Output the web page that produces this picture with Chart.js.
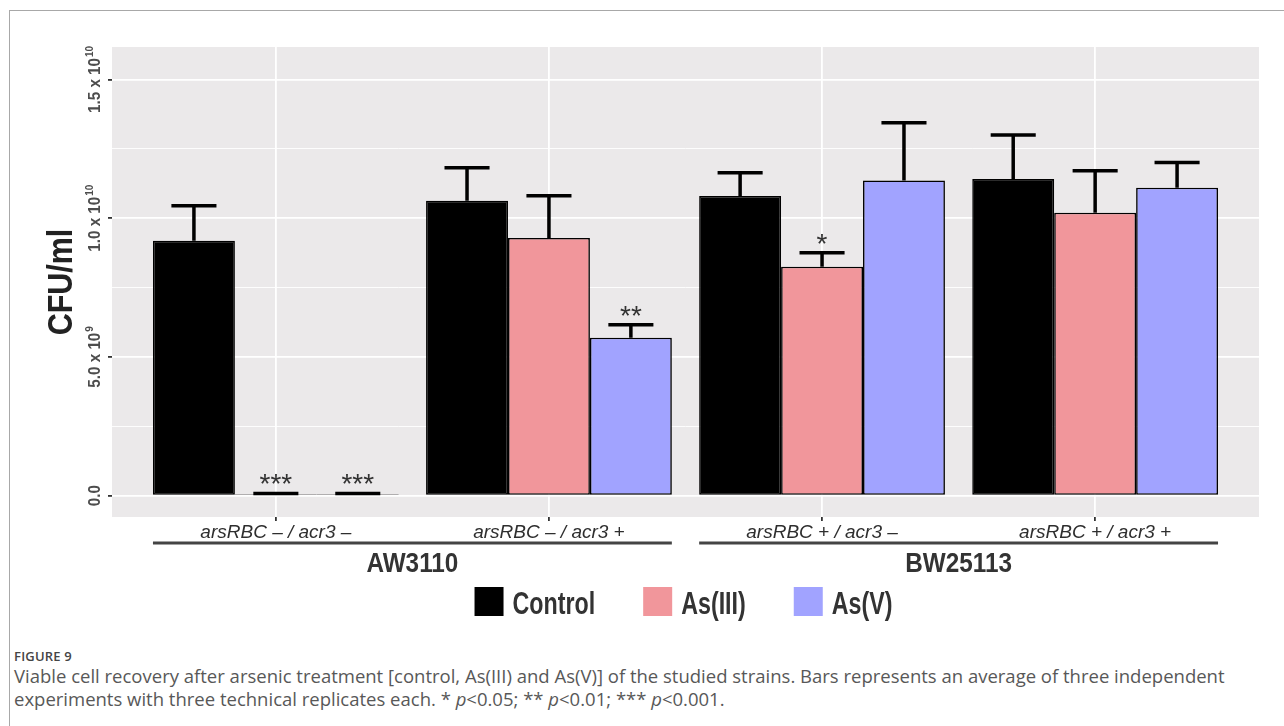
<!DOCTYPE html>
<html>
<head>
<meta charset="utf-8">
<script src="https://cdn.jsdelivr.net/npm/chart.js@4.4.1/dist/chart.umd.min.js"></script>
<style>
  html, body { margin: 0; padding: 0; background: #fff; width: 1284px; height: 726px; overflow: hidden; }
  #frame { position: absolute; left: 9px; top: 10px; width: 1300px; height: 740px;
           border-left: 1.5px solid #a8a8a8; border-top: 1.5px solid #a8a8a8; }
  #wrap { position: absolute; left: 0; top: 0; width: 1284px; height: 640px; }
  .cap { position: absolute; left: 14px; font-family: 'Open Sans', 'Noto Sans', sans-serif;
         color: #585858; white-space: nowrap; }
  #figno { top: 647px; font-size: 13px; font-weight: 600; color: #454545; letter-spacing: 0.2px; }
  .line { font-size: 18.5px; }
</style>
</head>
<body>
<div id="frame"></div>
<div id="wrap"><canvas id="c" width="1284" height="640"></canvas></div>
<div class="cap" id="figno">FIGURE 9</div>
<div class="cap line" style="top:663px;">Viable cell recovery after arsenic treatment [control, As(III) and As(V)] of the studied strains. Bars represents an average of three independent</div>
<div class="cap line" style="top:686px;">experiments with three technical replicates each. * <i>p</i>&lt;0.05; ** <i>p</i>&lt;0.01; *** <i>p</i>&lt;0.001.</div>

<script>
// Genotype categories (x axis) and strain groupings
const categories = ['arsRBC \u2013 / acr3 \u2013', 'arsRBC \u2013 / acr3 +', 'arsRBC + / acr3 \u2013', 'arsRBC + / acr3 +'];
const strainNames = ['AW3110', 'BW25113'];
const strainFirstCat = [1, 3];
const strainLastCat = [2, 4];

// Treatments
const seriesNames = ['Control', 'As(III)', 'As(V)'];

// Mean CFU/ml and mean + SD for each treatment
const controlMean  = [9.19e9, 1.063e10, 1.080e10, 1.141e10];
const controlUpper = [1.045e10, 1.182e10, 1.164e10, 1.300e10];
const as3Mean      = [5e7, 9.29e9, 8.25e9, 1.020e10];
const as3Upper     = [8e7, 1.081e10, 8.75e9, 1.171e10];
const as5Mean      = [5e7, 5.69e9, 1.136e10, 1.110e10];
const as5Upper     = [8e7, 6.16e9, 1.344e10, 1.201e10];

// Significance marks
const controlSig = ['', '', '', ''];
const as3Sig     = ['***', '', '*', ''];
const as5Sig     = ['***', '**', '', ''];

// Y axis ticks
const yGridValues  = [0, 2.5e9, 5e9, 7.5e9, 1e10, 1.25e10, 1.5e10];
const yTickValues  = [0, 5e9, 1e10, 1.5e10];
const yTickText    = ['0.0', '5.0 x 10', '1.0 x 10', '1.5 x 10'];
const yTickSup     = ['', '9', '10', '10'];

const BOLD = "'Liberation Sans', Arial, sans-serif";
const PLAIN = "'Liberation Sans', Arial, sans-serif";

const upperSets = [controlUpper, as3Upper, as5Upper];
const sigSets = [controlSig, as3Sig, as5Sig];

const isMajor = v => yTickValues.some(t => Math.abs(t - v) < 1);

// bold text squeezed horizontally to a condensed look
function condText(ctx, text, x, y, size, sx, align, color) {
  ctx.save();
  ctx.translate(x, y);
  ctx.scale(sx, 1);
  ctx.font = 'bold ' + size + 'px ' + BOLD;
  ctx.fillStyle = color;
  ctx.textAlign = align;
  ctx.textBaseline = 'alphabetic';
  ctx.fillText(text, 0, 0);
  ctx.restore();
}
function condWidth(ctx, text, size, sx) {
  ctx.save();
  ctx.font = 'bold ' + size + 'px ' + BOLD;
  const w = ctx.measureText(text).width * sx;
  ctx.restore();
  return w;
}

const decorations = {
  id: 'decorations',
  beforeDraw(chart) {
    const { ctx, chartArea: a } = chart;
    ctx.save();
    ctx.fillStyle = '#EBE9EA';
    ctx.fillRect(a.left, a.top, a.right - a.left, a.bottom - a.top);
    ctx.restore();
  },
  afterDatasetsDraw(chart) {
    const { ctx } = chart;
    const yS = chart.scales.y;
    ctx.save();
    chart.data.datasets.forEach((ds, i) => {
      const meta = chart.getDatasetMeta(i);
      meta.data.forEach((el, j) => {
        const top = yS.getPixelForValue(upperSets[i][j]);
        const capW = el.width * 0.55;
        ctx.strokeStyle = '#000';
        ctx.lineWidth = 3.5;
        ctx.lineCap = 'butt';
        ctx.beginPath();
        ctx.moveTo(el.x, el.y);
        ctx.lineTo(el.x, top);
        ctx.moveTo(el.x - capW / 2, top);
        ctx.lineTo(el.x + capW / 2, top);
        ctx.stroke();
        const s = sigSets[i][j];
        if (s) {
          ctx.font = '28px ' + PLAIN;
          ctx.fillStyle = '#333';
          ctx.textAlign = 'center';
          ctx.textBaseline = 'alphabetic';
          const m = ctx.measureText(s);
          const cy = top - 14;
          ctx.fillText(s, el.x, cy + (m.actualBoundingBoxAscent - m.actualBoundingBoxDescent) / 2);
        }
      });
    });
    ctx.restore();
  },
  afterDraw(chart) {
    const { ctx, chartArea: a } = chart;
    const xS = chart.scales.x, yS = chart.scales.y;
    ctx.save();

    // y tick labels, rotated, with superscript exponents
    yTickValues.forEach((v, k) => {
      const py = yS.getPixelForValue(v);
      ctx.save();
      ctx.translate(100, py);
      ctx.rotate(-Math.PI / 2);
      const w1 = condWidth(ctx, yTickText[k], 16, 0.95);
      const w2 = yTickSup[k] ? condWidth(ctx, yTickSup[k], 10.5, 0.95) + 1 : 0;
      const x0 = -(w1 + w2) / 2;
      condText(ctx, yTickText[k], x0, 0, 16, 0.95, 'left', '#4d4d4d');
      if (yTickSup[k]) condText(ctx, yTickSup[k], x0 + w1 + 1, -7, 10.5, 0.95, 'left', '#4d4d4d');
      ctx.restore();
    });

    // y axis title
    ctx.save();
    ctx.translate(72, (a.top + a.bottom) / 2);
    ctx.rotate(-Math.PI / 2);
    condText(ctx, 'CFU/ml', 0, 0, 35, 0.87, 'center', '#222');
    ctx.restore();

    // strain brackets and names
    const half = 0.45;
    strainNames.forEach((name, k) => {
      const x1 = xS.getPixelForValue(strainFirstCat[k] - half);
      const x2 = xS.getPixelForValue(strainLastCat[k] + half);
      ctx.strokeStyle = '#444';
      ctx.lineWidth = 3;
      ctx.beginPath();
      ctx.moveTo(x1, 543);
      ctx.lineTo(x2, 543);
      ctx.stroke();
      condText(ctx, name, (x1 + x2) / 2, 572, 27, 0.9, 'center', '#333');
    });

    // legend
    const box = 29, gapText = 9, gapItem = 48, lsize = 31, lsx = 0.75;
    const widths = seriesNames.map(n => condWidth(ctx, n, lsize, lsx));
    const total = widths.reduce((s, w) => s + box + gapText + w, 0) + gapItem * (seriesNames.length - 1);
    let lx = (a.left + a.right) / 2 - total / 2 - 2;
    chart.data.datasets.forEach((ds, i) => {
      ctx.fillStyle = ds.backgroundColor;
      ctx.fillRect(lx, 587, box, box);
      condText(ctx, seriesNames[i], lx + box + gapText, 614, lsize, lsx, 'left', '#333');
      lx += box + gapText + widths[i] + gapItem;
    });
    ctx.restore();
  }
};

const toPoints = arr => arr.map((v, i) => ({ x: i + 1, y: v }));

new Chart(document.getElementById('c'), {
  type: 'bar',
  data: {
    datasets: [
      { label: seriesNames[0], data: toPoints(controlMean), backgroundColor: '#000000' },
      { label: seriesNames[1], data: toPoints(as3Mean), backgroundColor: '#F1969B' },
      { label: seriesNames[2], data: toPoints(as5Mean), backgroundColor: '#A1A3FF' }
    ]
  },
  options: {
    responsive: false,
    animation: false,
    devicePixelRatio: 1,
    layout: { padding: { left: 0, top: 47, right: 25, bottom: 0 } },
    datasets: {
      bar: {
        categoryPercentage: 0.9,
        barPercentage: 1.0,
        borderColor: '#000',
        borderWidth: 1.6,
        borderSkipped: false
      }
    },
    plugins: { legend: { display: false }, tooltip: { enabled: false } },
    scales: {
      x: {
        type: 'linear',
        offset: false,
        min: 0.4,
        max: 4.6,
        afterBuildTicks(s) { s.ticks = categories.map((c, i) => ({ value: i + 1 })); },
        afterFit(s) { s.height = 123; },
        ticks: {
          callback: (v, i) => categories[i],
          font: { family: PLAIN, size: 19, style: 'italic' },
          color: '#2e2e2e',
          padding: 0,
          autoSkip: false,
          maxRotation: 0,
          minRotation: 0
        },
        grid: { offset: false, color: '#ffffff', lineWidth: 1.8, tickColor: '#333', tickLength: 4, drawTicks: true },
        border: { display: false }
      },
      y: {
        type: 'linear',
        min: -7.7e8,
        max: 1.617e10,
        afterBuildTicks(s) { s.ticks = yGridValues.map(v => ({ value: v })); },
        afterFit(s) { s.width = 112; },
        ticks: { display: false },
        grid: {
          color: '#ffffff',
          lineWidth: c => isMajor(c.tick.value) ? 1.8 : 0.9,
          tickColor: c => isMajor(c.tick.value) ? '#333' : 'rgba(0,0,0,0)',
          tickLength: 4,
          drawTicks: true
        },
        border: { display: false }
      }
    }
  },
  plugins: [decorations]
});
</script>
</body>
</html>
